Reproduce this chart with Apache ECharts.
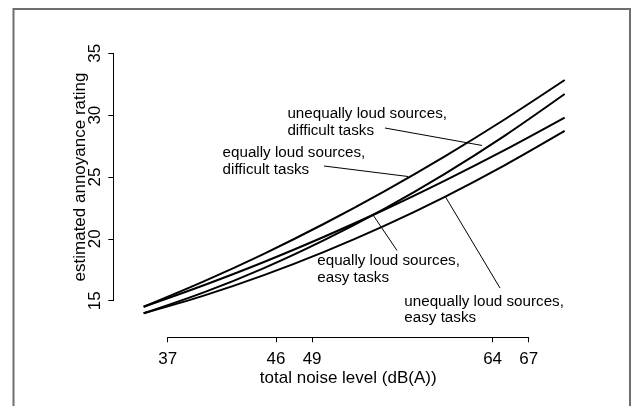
<!DOCTYPE html>
<html>
<head>
<meta charset="utf-8">
<script src="https://cdn.jsdelivr.net/npm/echarts@6/dist/echarts.min.js"></script>
<style>
  html, body { margin: 0; padding: 0; background: #fff; }
  #main { width: 632px; height: 406px; }
</style>
</head>
<body>
<div id="main"></div>
<script>
// Total noise level, dB(A)
const noiseLevels = [35, 40, 45, 50, 55, 60, 65, 70];
const xTickValues = [37, 46, 49, 64, 67];

// Estimated annoyance rating per condition
const equallyDifficult   = [14.51, 16.56, 18.79, 21.22, 23.84, 26.65, 29.65, 32.84];
const unequallyDifficult = [13.98, 15.67, 17.64, 19.90, 22.43, 25.24, 28.33, 31.71];
const equallyEasy        = [14.51, 16.25, 18.13, 20.17, 22.35, 24.69, 27.17, 29.80];
const unequallyEasy      = [13.98, 15.41, 17.07, 18.95, 21.05, 23.38, 25.94, 28.72];

// Annotation text blocks: [label, anchor level, anchor rating]
const annotations = [
  ['unequally loud sources,\ndifficult tasks', 46.95, 30.09],
  ['equally loud sources,\ndifficult tasks',   41.56, 26.92],
  ['equally loud sources,\neasy tasks',        49.43, 18.21],
  ['unequally loud sources,\neasy tasks',      56.67, 14.92]
];
// Pointer segments from each label to its curve
const pointers = [
  [[55.06, 28.96], [63.13, 27.55]],
  [[49.99, 25.89], [56.98, 25.04]],
  [[54.07, 21.93], [56.06, 19.06]],
  [[60.05, 23.46], [64.62, 16.03]]
];

const FONT = '"Liberation Sans", Arial, Helvetica, sans-serif';
const chart = echarts.init(document.getElementById('main'));

function curve(name, values) {
  return {
    name: name,
    type: 'line',
    xAxisIndex: 0,
    yAxisIndex: 0,
    data: noiseLevels.map((x, i) => [x, values[i]]),
    smooth: 0.3,
    symbol: 'none',
    silent: true,
    lineStyle: { color: '#000', width: 2 }
  };
}

const series = [
  curve('equally loud sources, difficult tasks', equallyDifficult),
  curve('unequally loud sources, difficult tasks', unequallyDifficult),
  curve('equally loud sources, easy tasks', equallyEasy),
  curve('unequally loud sources, easy tasks', unequallyEasy)
];
pointers.forEach((seg, i) => {
  series.push({
    name: 'pointer' + i,
    type: 'line',
    xAxisIndex: 0,
    yAxisIndex: 0,
    data: seg,
    symbol: 'none',
    silent: true,
    lineStyle: { color: '#000', width: 1 }
  });
});

chart.setOption({
  animation: false,
  backgroundColor: '#fff',
  grid: [
    // plotting region spanning the full data range
    { left: 143.64, right: 67.31, top: 53.3, bottom: 80.56 },
    // region holding the drawn axes
    { left: 167.7, right: 103.3, top: 53.3, bottom: 105.3 }
  ],
  xAxis: [
    { gridIndex: 0, type: 'value', min: 35, max: 70, show: false },
    {
      gridIndex: 1,
      type: 'value',
      min: 37,
      max: 67,
      offset: 36.6,
      name: 'total noise level (dB(A))',
      nameLocation: 'middle',
      nameGap: 33,
      nameMoveOverlap: false,
      nameTextStyle: { fontFamily: FONT, fontSize: 17, color: '#000' },
      axisLine: { show: true, lineStyle: { color: '#000', width: 1 } },
      axisTick: { show: true, inside: false, length: 5, customValues: xTickValues, lineStyle: { color: '#000' } },
      axisLabel: { customValues: xTickValues, margin: 14, fontFamily: FONT, fontSize: 17, color: '#000' },
      splitLine: { show: false }
    }
  ],
  yAxis: [
    { gridIndex: 0, type: 'value', min: 13, max: 35, show: false },
    {
      gridIndex: 1,
      type: 'value',
      min: 15,
      max: 35,
      interval: 5,
      offset: 54.4,
      name: 'estimated annoyance rating',
      nameLocation: 'middle',
      nameGap: 24,
      nameMoveOverlap: false,
      nameTextStyle: { fontFamily: FONT, fontSize: 17, color: '#000' },
      axisLine: { show: true, lineStyle: { color: '#000', width: 1 } },
      axisTick: { show: true, inside: false, length: 5, lineStyle: { color: '#000' } },
      axisLabel: { rotate: 90, margin: 9, fontFamily: FONT, fontSize: 17, color: '#000' },
      splitLine: { show: false }
    }
  ],
  series: series
});

// Label text blocks and outer frame
const graphics = annotations.map(a => {
  const p = chart.convertToPixel({ xAxisIndex: 0, yAxisIndex: 0 }, [a[1], a[2]]);
  return {
    type: 'text',
    silent: true,
    x: p[0],
    y: p[1] - 8.25,
    style: {
      text: a[0],
      font: '15.2px ' + FONT,
      fill: '#000',
      lineHeight: 16.5,
      align: 'left',
      verticalAlign: 'top'
    }
  };
});
graphics.push({
  type: 'rect',
  silent: true,
  shape: { x: 13.5, y: 9, width: 616.5, height: 420 },
  style: { fill: 'none', stroke: '#6e6e6e', lineWidth: 2 }
});
chart.setOption({ graphic: graphics });
</script>
</body>
</html>
